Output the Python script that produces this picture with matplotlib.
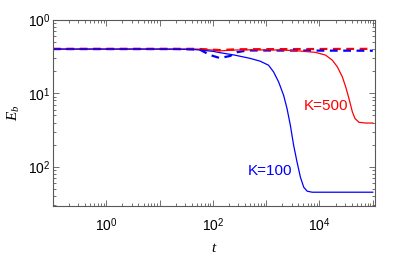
import numpy as np
import matplotlib
matplotlib.use("Agg")
import matplotlib.pyplot as plt
from matplotlib.ticker import FixedLocator, LogLocator, NullFormatter

plt.rcParams['font.family'] = ['Liberation Sans', 'DejaVu Sans']
plt.rcParams['mathtext.fontset'] = 'custom'
plt.rcParams['mathtext.rm'] = 'Liberation Sans'
plt.rcParams['mathtext.it'] = 'Liberation Serif:italic'

# values
t_k100 = [0.1, 10, 42, 100, 135, 250, 499, 770, 1105, 1373, 1708, 2120, 2460, 2840, 3275,
          3795, 4385, 5060, 5865, 7280, 1e5]
e_k100 = [0.397, 0.397, 0.393, 0.37, 0.355, 0.33, 0.297, 0.272, 0.240, 0.195, 0.1425, 0.0939,
          0.0619, 0.0367, 0.0196, 0.0116, 0.00726, 0.00531, 0.00469, 0.00454, 0.00454]

t_k500 = [0.1, 50, 100, 135, 250, 500, 2000, 3525, 8410, 12980, 17370, 21600, 26800, 31000,
          35700, 41400, 46400, 55200, 73800, 1e5]
e_k500 = [0.397, 0.397, 0.385, 0.375, 0.385, 0.388, 0.385, 0.378, 0.358, 0.329, 0.281, 0.228,
          0.167, 0.122, 0.0847, 0.0557, 0.0453, 0.0403, 0.0394, 0.0394]

t_k500_dash = [0.1, 50, 135, 300, 1e5]
e_k500_dash = [0.40, 0.40, 0.385, 0.395, 0.40]

t_k100_dash = [0.1, 20, 57, 88, 135, 210, 284, 440, 1e5]
e_k100_dash = [0.397, 0.397, 0.39, 0.33, 0.30, 0.32, 0.36, 0.38, 0.377]

x_major = [1e-1, 1e0, 1e1, 1e2, 1e3, 1e4, 1e5]
x_labels = ['', r'$10^{0}$', '', r'$10^{2}$', '', r'$10^{4}$', '']
y_major = [1e-2, 1e-1, 1e0]
y_labels = [r'$10^{2}$', r'$10^{1}$', r'$10^{0}$']

fig = plt.figure(figsize=(4.15, 2.57), dpi=100)
ax = fig.add_axes([53/415, 51/257, 322/415, 186.5/257])

ax.plot(t_k500_dash, e_k500_dash, color='red', lw=1.6, ls=(0, (3.5, 2.5)))
ax.plot(t_k100_dash, e_k100_dash, color='blue', lw=1.6, ls=(0, (3.5, 2.5)))
ax.plot(t_k500, e_k500, color='red', lw=0.9)
ax.plot(t_k100, e_k100, color='blue', lw=0.9)

ax.set_xscale('log')
ax.set_yscale('log')
ax.set_xlim(0.1, 1.1e5)
ax.set_ylim(10**-2.53, 1)

ax.xaxis.set_major_locator(FixedLocator(x_major))
ax.set_xticklabels(x_labels)
ax.yaxis.set_major_locator(FixedLocator(y_major))
ax.set_yticklabels(y_labels)
ax.xaxis.set_minor_locator(LogLocator(base=10, subs=np.arange(2, 10), numticks=20))
ax.yaxis.set_minor_locator(LogLocator(base=10, subs=np.arange(2, 10), numticks=20))
ax.xaxis.set_minor_formatter(NullFormatter())
ax.yaxis.set_minor_formatter(NullFormatter())

ax.tick_params(which='both', direction='in', top=True, right=True, color='0.35', width=0.6)
ax.tick_params(which='major', length=4)
ax.tick_params(which='minor', length=2)
ax.tick_params(axis='x', which='major', labelsize=10, pad=7)
ax.tick_params(axis='y', which='major', labelsize=10, pad=2)
for s in ax.spines.values():
    s.set_color('0.35')
    s.set_linewidth(0.8)

ax.set_xlabel(r'$\mathit{t}$', fontsize=11, labelpad=5)
ax.set_ylabel(r'$\mathit{E_b}$', fontsize=11, labelpad=4)

ax.text(3.5e4, 0.068, 'K=500', color='red', fontsize=11, ha='right', va='center')
ax.text(3.1e3, 0.0088, 'K=100', color='blue', fontsize=11, ha='right', va='center')

fig.savefig('out.png', dpi=100)
